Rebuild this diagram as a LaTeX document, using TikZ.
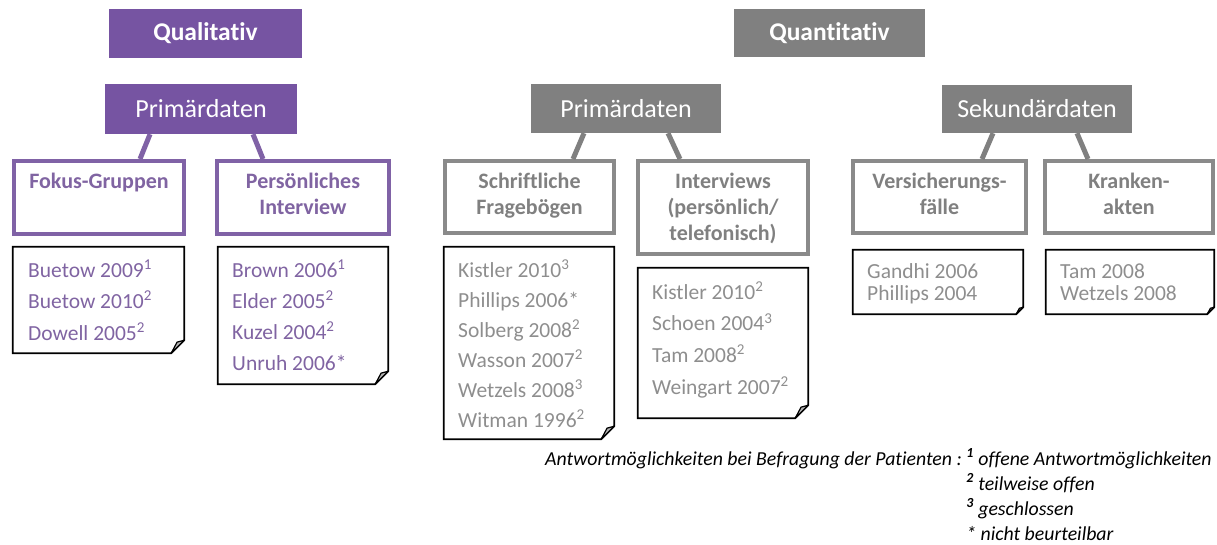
\documentclass[tikz,border=0pt]{standalone}
\usepackage{fontspec}
\setmainfont{Carlito}[Ligatures=NoCommon]
\usetikzlibrary{calc}

\definecolor{qfill}{RGB}{118,84,162}
\definecolor{qline}{RGB}{128,98,166}
\definecolor{qtext}{RGB}{128,100,162}
\definecolor{nfill}{RGB}{128,128,128}
\definecolor{nline}{RGB}{138,138,138}
\definecolor{ntext}{RGB}{128,128,128}
\definecolor{ngray}{RGB}{142,142,142}

\tikzset{
  head/.style={fill=#1, text=white, inner sep=0pt, font=\bfseries\fontsize{25.5}{30}\selectfont},
  sub/.style={fill=#1, text=white, inner sep=0pt, font=\fontsize{26}{30}\selectfont},
  cat/.style={draw=#1, line width=4pt, fill=white, inner sep=0pt},
  cattext/.style={text=#1, inner sep=0pt, anchor=base, font=\bfseries\fontsize{22}{26}\selectfont},
  note/.style={inner sep=0pt},
  notetext/.style={text=#1, inner sep=0pt, anchor=base west},
  link/.style={draw=#1, line width=5pt},
  noteline/.style={draw=black, line width=1.8pt, line join=miter},
  flap/.style={draw=black, line width=1.2pt, fill=black!30, line join=round},
}

% outline of a sheet with a curled bottom-right corner of size #2
\newcommand\drawnote[2]{%
  \draw[noteline] (#1.north west) -- (#1.north east)
    -- ([yshift=#2pt]#1.south east) -- ([xshift=-#2pt]#1.south east)
    -- (#1.south west) -- cycle;
  \draw[flap] ([yshift=#2pt]#1.south east)
    -- ([xshift={-0.55*#2},yshift={0.85*#2}]#1.south east)
    -- ([xshift=-#2pt]#1.south east) -- cycle;
}
% top-aligned block of citation lines with leading #1
\newcommand\citelines[2]{\parbox[t]{170pt}{\fontsize{21.5}{#1}\selectfont\raggedright #2}}

\begin{document}
\begin{tikzpicture}[x=1pt,y=-1pt]
\useasboundingbox (0,0) rectangle (1217,544);

% ---------- headings ----------
\node[head=qfill, minimum width=193pt, minimum height=49pt] (ql) at (205.5,33.5) {Qualitativ};
\node[head=nfill, minimum width=191pt, minimum height=48pt] (qn) at (829.5,33) {Quantitativ};

\node[sub=qfill, minimum width=192pt, minimum height=50pt] (qp) at (201,109) {Primärdaten};
\node[sub=nfill, minimum width=190pt, minimum height=49pt] (np) at (626,108.5) {Primärdaten};
\node[sub=nfill, minimum width=190pt, minimum height=48pt] (ns) at (1037,109) {Sekundärdaten};

% ---------- categories ----------
\node[cat=qline, minimum width=170pt, minimum height=73pt] (fg) at (99,197.5) {};
\node[cat=qline, minimum width=172pt, minimum height=73pt] (pi) at (303,197.5) {};
\node[cat=nline, minimum width=169pt, minimum height=72pt] (sf) at (529.5,197) {};
\node[cat=nline, minimum width=170pt, minimum height=93pt] (iv) at (723,207.5) {};
\node[cat=nline, minimum width=173pt, minimum height=72pt] (vf) at (939.5,197) {};
\node[cat=nline, minimum width=168pt, minimum height=72pt] (ka) at (1129,197) {};

% ---------- connectors ----------
\draw[link=qline] ([xshift=-51pt]qp.south) -- ([xshift=41pt]fg.north);
\draw[link=qline] ([xshift=52pt]qp.south) -- ([xshift=-40pt]pi.north);
\draw[link=nfill] ([xshift=-42pt]np.south) -- ([xshift=43.5pt]sf.north);
\draw[link=nfill] ([xshift=42pt]np.south) -- ([xshift=-43pt]iv.north);
\draw[link=nfill] ([xshift=-44pt]ns.south) -- ([xshift=42.5pt]vf.north);
\draw[link=nfill] ([xshift=40pt]ns.south) -- ([xshift=-41pt]ka.north);

\node[cattext=qtext] (fgt) at (99,188) {\parbox[t]{170pt}{\centering Fokus-Gruppen}};
\node[cattext=qtext] (pit) at (303,188) {\parbox[t]{170pt}{\centering Persönliches\\Interview}};
\node[cattext=ntext] (sft) at (529.5,188) {\parbox[t]{170pt}{\centering Schriftliche\\Fragebögen}};
\node[cattext=ntext] (ivt) at (723,188) {\parbox[t]{170pt}{\centering Interviews\\(persönlich/\\telefonisch)}};
\node[cattext=ntext] (vft) at (939.5,188) {\parbox[t]{170pt}{\centering Versicherungs-\\fälle}};
\node[cattext=ntext] (kat) at (1129,188) {\parbox[t]{170pt}{\centering Kranken-\\akten}};

% ---------- reference sheets ----------
\node[note, minimum width=171pt, minimum height=106pt] (n1) at (98.5,300) {};
\node[note, minimum width=170pt, minimum height=137pt] (n2) at (303,315.5) {};
\node[note, minimum width=170pt, minimum height=192pt] (n3) at (529,343) {};
\node[note, minimum width=170pt, minimum height=150pt] (n4) at (723,343) {};
\node[note, minimum width=170pt, minimum height=64pt] (n5) at (938,282) {};
\node[note, minimum width=168pt, minimum height=64pt] (n6) at (1130,282) {};
\drawnote{n1}{13}
\drawnote{n2}{13}
\drawnote{n3}{13}
\drawnote{n4}{13}
\drawnote{n5}{7}
\drawnote{n6}{7}

\node[notetext=qtext] (t1) at (28,277) {\citelines{31.5}{Buetow 2009\textsuperscript{1}\\Buetow 2010\textsuperscript{2}\\Dowell 2005\textsuperscript{2}}};
\node[notetext=qtext] (t2) at (232,277) {\citelines{31}{Brown 2006\textsuperscript{1}\\Elder 2005\textsuperscript{2}\\Kuzel 2004\textsuperscript{2}\\Unruh 2006*}};
\node[notetext=ngray] (t3) at (458,277) {\citelines{30}{Kistler 2010\textsuperscript{3}\\Phillips 2006*\\Solberg 2008\textsuperscript{2}\\Wasson 2007\textsuperscript{2}\\Wetzels 2008\textsuperscript{3}\\Witman 1996\textsuperscript{2}}};
\node[notetext=ngray] (t4) at (652,299) {\citelines{31.7}{Kistler 2010\textsuperscript{2}\\Schoen 2004\textsuperscript{3}\\Tam 2008\textsuperscript{2}\\Weingart 2007\textsuperscript{2}}};
\node[notetext=ngray] (t5) at (867,278) {\citelines{22}{Gandhi 2006\\Phillips 2004}};
\node[notetext=ngray] (t6) at (1060,278) {\citelines{22}{Tam 2008\\Wetzels 2008}};

% ---------- legend ----------
\node[anchor=base west, inner sep=0pt, font=\itshape\fontsize{19.8}{25}\selectfont] (leg) at (545,465)
  {\begin{tabular}[t]{@{}l@{\ }l@{}}
   Antwortmöglichkeiten bei Befragung der Patienten : & \textsuperscript{\bfseries 1} offene Antwortmöglichkeiten\\
   & \textsuperscript{\bfseries 2} teilweise offen\\
   & \textsuperscript{\bfseries 3} geschlossen\\
   & * nicht beurteilbar
   \end{tabular}};
\end{tikzpicture}
\end{document}
